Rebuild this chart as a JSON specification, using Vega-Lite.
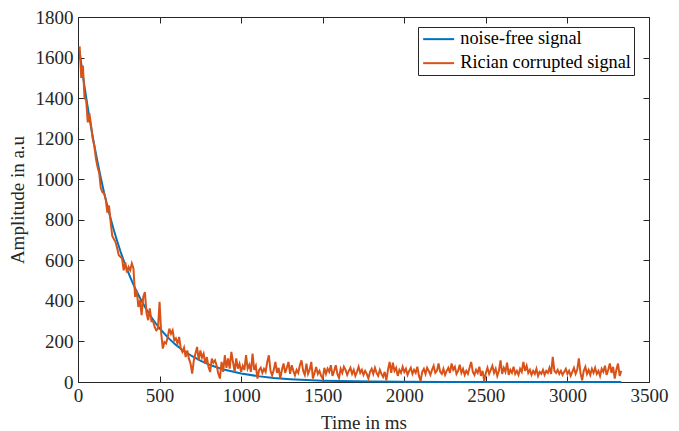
{
  "$schema": "https://vega.github.io/schema/vega-lite/v6.json",
  "width": 571,
  "height": 365,
  "autosize": {"type": "none"},
  "padding": {"left": 78, "top": 17, "right": 30, "bottom": 49},
  "background": "white",
  "config": {
    "view": {"stroke": null},
    "font": "Liberation Serif",
    "axis": {
      "grid": false,
      "domainColor": "#262626",
      "domainWidth": 1,
      "tickColor": "#262626",
      "tickWidth": 1,
      "tickSize": -6,
      "labelColor": "#262626",
      "labelFont": "Liberation Serif",
      "labelFontSize": 19,
      "labelFlush": false,
      "labelOverlap": false,
      "titleFont": "Liberation Serif",
      "titleFontSize": 19,
      "titleFontWeight": "normal",
      "titleColor": "#262626"
    },
    "legend": {
      "labelFont": "Liberation Serif",
      "labelFontSize": 18.3,
      "labelColor": "#000000",
      "labelLimit": 400
    }
  },
  "datasets": {
    "clean": [
      {"t":10,"a":1629},{"t":20,"a":1569},{"t":30,"a":1512},{"t":40,"a":1457},{"t":50,"a":1404},{"t":60,"a":1353},{"t":70,"a":1304},{"t":80,"a":1257},{"t":90,"a":1211},{"t":100,"a":1167},{"t":120,"a":1084},{"t":140,"a":1006},{"t":160,"a":934},{"t":180,"a":868},{"t":200,"a":806},{"t":220,"a":748},{"t":240,"a":695},{"t":260,"a":645},{"t":280,"a":599},{"t":300,"a":556},{"t":320,"a":517},{"t":340,"a":480},{"t":360,"a":446},{"t":380,"a":414},{"t":400,"a":384},{"t":425,"a":350},{"t":450,"a":319},{"t":475,"a":291},{"t":500,"a":265},{"t":550,"a":220},{"t":600,"a":183},{"t":650,"a":152},{"t":700,"a":127},{"t":750,"a":105},{"t":800,"a":87},{"t":850,"a":73},{"t":900,"a":60},{"t":1000,"a":42},{"t":1100,"a":29},{"t":1200,"a":20},{"t":1300,"a":14},{"t":1400,"a":9.5},{"t":1500,"a":6.5},{"t":1600,"a":4.5},{"t":1800,"a":2.2},{"t":2000,"a":1},{"t":2250,"a":0.4},{"t":2500,"a":0.2},{"t":3000,"a":0.03},{"t":3330,"a":0}
    ],
    "noisy": [
      {"t":10,"a":1655},{"t":20,"a":1500},{"t":30,"a":1560},{"t":40,"a":1400},{"t":50,"a":1390},{"t":60,"a":1280},{"t":70,"a":1325},{"t":80,"a":1265},{"t":90,"a":1200},{"t":100,"a":1165},
      {"t":110,"a":1100},{"t":120,"a":1060},{"t":130,"a":1030},{"t":140,"a":955},{"t":150,"a":935},{"t":160,"a":930},{"t":170,"a":900},{"t":180,"a":835},{"t":190,"a":870},{"t":200,"a":790},
      {"t":210,"a":720},{"t":220,"a":705},{"t":230,"a":690},{"t":240,"a":660},{"t":250,"a":625},{"t":260,"a":618},{"t":270,"a":610},{"t":280,"a":551},{"t":290,"a":590},{"t":300,"a":540},
      {"t":310,"a":567},{"t":320,"a":551},{"t":330,"a":585},{"t":340,"a":560},{"t":350,"a":420},{"t":360,"a":452},{"t":370,"a":370},{"t":380,"a":403},{"t":390,"a":330},{"t":400,"a":420},
      {"t":410,"a":444},{"t":420,"a":340},{"t":430,"a":305},{"t":440,"a":363},{"t":450,"a":300},{"t":460,"a":300},{"t":470,"a":271},{"t":480,"a":255},{"t":490,"a":262},{"t":500,"a":395},
      {"t":510,"a":240},{"t":520,"a":165},{"t":530,"a":197},{"t":540,"a":190},{"t":550,"a":222},{"t":560,"a":263},{"t":570,"a":238},{"t":580,"a":255},{"t":590,"a":205},{"t":600,"a":215},
      {"t":610,"a":189},{"t":620,"a":222},{"t":630,"a":165},{"t":640,"a":148},{"t":650,"a":170},{"t":660,"a":123},{"t":670,"a":156},{"t":680,"a":115},{"t":690,"a":90},{"t":700,"a":41},
      {"t":710,"a":107},{"t":720,"a":140},{"t":730,"a":173},{"t":740,"a":107},{"t":750,"a":156},{"t":760,"a":120},{"t":770,"a":140},{"t":780,"a":90},{"t":790,"a":123},{"t":800,"a":74},
      {"t":810,"a":49},{"t":820,"a":115},{"t":830,"a":95},{"t":840,"a":107},{"t":850,"a":80},{"t":860,"a":41},{"t":870,"a":17},{"t":880,"a":99},{"t":890,"a":50},{"t":900,"a":132},
      {"t":910,"a":70},{"t":920,"a":116},{"t":930,"a":66},{"t":940,"a":149},{"t":950,"a":99},{"t":960,"a":50},{"t":970,"a":116},{"t":980,"a":66},{"t":990,"a":90},{"t":1000,"a":50},
      {"t":1010,"a":80},{"t":1020,"a":60},{"t":1030,"a":132},{"t":1040,"a":66},{"t":1050,"a":85},{"t":1060,"a":50},{"t":1070,"a":140},{"t":1080,"a":60},{"t":1090,"a":80},{"t":1100,"a":17},
      {"t":1110,"a":58},{"t":1120,"a":70},{"t":1130,"a":45},{"t":1140,"a":65},{"t":1150,"a":50},{"t":1160,"a":99},{"t":1170,"a":132},{"t":1180,"a":55},{"t":1190,"a":33},{"t":1200,"a":60},
      {"t":1210,"a":99},{"t":1220,"a":45},{"t":1230,"a":70},{"t":1240,"a":17},{"t":1250,"a":60},{"t":1260,"a":91},{"t":1270,"a":45},{"t":1280,"a":70},{"t":1290,"a":99},{"t":1300,"a":40},
      {"t":1310,"a":83},{"t":1320,"a":55},{"t":1330,"a":33},{"t":1340,"a":60},{"t":1350,"a":45},{"t":1360,"a":83},{"t":1370,"a":107},{"t":1380,"a":55},{"t":1390,"a":35},{"t":1400,"a":91},
      {"t":1410,"a":40},{"t":1420,"a":60},{"t":1430,"a":99},{"t":1440,"a":17},{"t":1450,"a":45},{"t":1460,"a":74},{"t":1470,"a":40},{"t":1480,"a":55},{"t":1490,"a":30},{"t":1500,"a":17},
      {"t":1510,"a":70},{"t":1520,"a":40},{"t":1530,"a":66},{"t":1540,"a":50},{"t":1550,"a":83},{"t":1560,"a":30},{"t":1570,"a":55},{"t":1580,"a":83},{"t":1590,"a":40},{"t":1600,"a":20},
      {"t":1610,"a":65},{"t":1620,"a":45},{"t":1630,"a":75},{"t":1640,"a":60},{"t":1650,"a":35},{"t":1660,"a":55},{"t":1670,"a":70},{"t":1680,"a":40},{"t":1690,"a":60},{"t":1700,"a":30},
      {"t":1710,"a":50},{"t":1720,"a":75},{"t":1730,"a":45},{"t":1740,"a":60},{"t":1750,"a":35},{"t":1760,"a":55},{"t":1770,"a":40},{"t":1780,"a":17},{"t":1790,"a":50},{"t":1800,"a":65},
      {"t":1810,"a":40},{"t":1820,"a":70},{"t":1830,"a":45},{"t":1840,"a":30},{"t":1850,"a":60},{"t":1860,"a":40},{"t":1870,"a":25},{"t":1880,"a":50},{"t":1890,"a":8},{"t":1900,"a":60},
      {"t":1910,"a":99},{"t":1920,"a":45},{"t":1930,"a":95},{"t":1940,"a":55},{"t":1950,"a":70},{"t":1960,"a":30},{"t":1970,"a":60},{"t":1980,"a":45},{"t":1990,"a":75},{"t":2000,"a":50},
      {"t":2010,"a":65},{"t":2020,"a":35},{"t":2030,"a":55},{"t":2040,"a":70},{"t":2050,"a":40},{"t":2060,"a":60},{"t":2070,"a":45},{"t":2080,"a":75},{"t":2090,"a":30},{"t":2100,"a":5},
      {"t":2110,"a":50},{"t":2120,"a":65},{"t":2130,"a":40},{"t":2140,"a":70},{"t":2150,"a":55},{"t":2160,"a":35},{"t":2170,"a":60},{"t":2180,"a":80},{"t":2190,"a":45},{"t":2200,"a":55},
      {"t":2210,"a":91},{"t":2220,"a":50},{"t":2230,"a":40},{"t":2240,"a":65},{"t":2250,"a":35},{"t":2260,"a":55},{"t":2270,"a":70},{"t":2280,"a":45},{"t":2290,"a":91},{"t":2300,"a":60},
      {"t":2310,"a":75},{"t":2320,"a":40},{"t":2330,"a":55},{"t":2340,"a":85},{"t":2350,"a":45},{"t":2360,"a":65},{"t":2370,"a":35},{"t":2380,"a":55},{"t":2390,"a":40},{"t":2400,"a":70},
      {"t":2410,"a":99},{"t":2420,"a":50},{"t":2430,"a":35},{"t":2440,"a":60},{"t":2450,"a":45},{"t":2460,"a":75},{"t":2470,"a":30},{"t":2480,"a":55},{"t":2490,"a":5},{"t":2500,"a":45},
      {"t":2510,"a":70},{"t":2520,"a":40},{"t":2530,"a":60},{"t":2540,"a":80},{"t":2550,"a":45},{"t":2560,"a":65},{"t":2570,"a":30},{"t":2580,"a":55},{"t":2590,"a":107},{"t":2600,"a":40},
      {"t":2610,"a":70},{"t":2620,"a":50},{"t":2630,"a":95},{"t":2640,"a":35},{"t":2650,"a":60},{"t":2660,"a":45},{"t":2670,"a":75},{"t":2680,"a":40},{"t":2690,"a":55},{"t":2700,"a":35},
      {"t":2710,"a":65},{"t":2720,"a":50},{"t":2730,"a":99},{"t":2740,"a":55},{"t":2750,"a":80},{"t":2760,"a":45},{"t":2770,"a":60},{"t":2780,"a":35},{"t":2790,"a":55},{"t":2800,"a":40},
      {"t":2810,"a":65},{"t":2820,"a":30},{"t":2830,"a":50},{"t":2840,"a":40},{"t":2850,"a":60},{"t":2860,"a":35},{"t":2870,"a":55},{"t":2880,"a":45},{"t":2890,"a":70},{"t":2900,"a":40},
      {"t":2910,"a":124},{"t":2920,"a":55},{"t":2930,"a":45},{"t":2940,"a":60},{"t":2950,"a":40},{"t":2960,"a":55},{"t":2970,"a":35},{"t":2980,"a":50},{"t":2990,"a":65},{"t":3000,"a":40},
      {"t":3010,"a":55},{"t":3020,"a":30},{"t":3030,"a":50},{"t":3040,"a":70},{"t":3050,"a":40},{"t":3060,"a":60},{"t":3070,"a":116},{"t":3080,"a":45},{"t":3090,"a":8},{"t":3100,"a":55},
      {"t":3110,"a":75},{"t":3120,"a":40},{"t":3130,"a":60},{"t":3140,"a":35},{"t":3150,"a":65},{"t":3160,"a":45},{"t":3170,"a":70},{"t":3180,"a":40},{"t":3190,"a":55},{"t":3200,"a":30},
      {"t":3210,"a":65},{"t":3220,"a":50},{"t":3230,"a":80},{"t":3240,"a":35},{"t":3250,"a":60},{"t":3260,"a":91},{"t":3270,"a":45},{"t":3280,"a":75},{"t":3290,"a":17},{"t":3300,"a":60},
      {"t":3310,"a":91},{"t":3320,"a":30},{"t":3330,"a":55}
    ]
  },
  "layer": [
    {
      "data": {"name": "clean"},
      "mark": {"type": "line", "strokeWidth": 2},
      "encoding": {
        "x": {"field": "t", "type": "quantitative",
              "scale": {"domain": [0, 3500], "nice": false, "zero": false},
              "axis": {"title": "Time in ms", "values": [0,500,1000,1500,2000,2500,3000,3500], "format": "d", "labelPadding": 10, "titlePadding": 8}},
        "y": {"field": "a", "type": "quantitative",
              "scale": {"domain": [0, 1800], "nice": false},
              "axis": {"title": "Amplitude in a.u", "values": [0,200,400,600,800,1000,1200,1400,1600,1800], "format": "d", "labelPadding": 11, "titlePadding": 8}},
        "color": {"datum": "noise-free signal", "type": "nominal",
                  "scale": {"domain": ["noise-free signal", "Rician corrupted signal"], "range": ["#0072BD", "#D95319"]},
                  "legend": {"title": null, "orient": "none", "legendX": 340, "legendY": 10,
                             "symbolType": "M-0.875,0H3", "symbolSize": 256, "symbolStrokeWidth": 2,
                             "strokeColor": "#262626", "fillColor": "white", "padding": 3,
                             "rowPadding": 5, "labelOffset": 21, "cornerRadius": 0}}
      }
    },
    {
      "data": {"name": "noisy"},
      "mark": {"type": "line", "strokeWidth": 2},
      "encoding": {
        "x": {"field": "t", "type": "quantitative",
              "axis": {"orient": "top", "title": null, "labels": false, "values": [0,500,1000,1500,2000,2500,3000,3500]}},
        "y": {"field": "a", "type": "quantitative",
              "axis": {"orient": "right", "title": null, "labels": false, "values": [0,200,400,600,800,1000,1200,1400,1600,1800]}},
        "color": {"datum": "Rician corrupted signal", "type": "nominal"}
      }
    }
  ],
  "resolve": {"axis": {"x": "independent", "y": "independent"}}
}
